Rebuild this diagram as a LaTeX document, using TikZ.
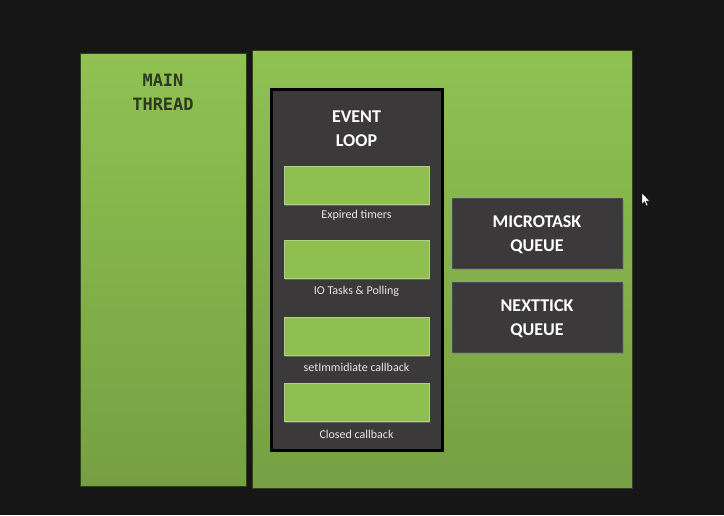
\documentclass[tikz,border=0pt]{standalone}
\usepackage{fontspec}
\setmainfont{Carlito}
\newfontfamily\monofont{DejaVu Sans Mono}
\usetikzlibrary{shadows}
\definecolor{bgdark}{HTML}{161616}
\definecolor{leaftop}{HTML}{90C152}
\definecolor{leafbot}{HTML}{76A043}
\definecolor{slate}{HTML}{3B393A}
\definecolor{barfill}{HTML}{8FBF4F}
\definecolor{threadink}{HTML}{2C3A20}
\definecolor{labelink}{HTML}{E6E6E6}
\tikzset{
  panel/.style={rectangle, inner sep=0pt, top color=leaftop, bottom color=leafbot,
    draw=black!60!leafbot, line width=0.6pt},
  loopbox/.style={rectangle, inner sep=0pt, fill=slate, draw=black, line width=3pt},
  phasebar/.style={rectangle, inner sep=0pt, fill=barfill, draw=barfill!70!white,
    line width=0.5pt, minimum width=145pt, minimum height=38pt,
    drop shadow={shadow xshift=1pt, shadow yshift=-1.5pt, opacity=0.6}},
  phaselabel/.style={text=labelink, font=\fontsize{12}{14}\selectfont},
  queuebox/.style={rectangle, inner sep=0pt, fill=slate, draw=black!70, line width=0.5pt,
    minimum width=170pt, minimum height=70pt,
    drop shadow={shadow xshift=1.5pt, shadow yshift=-2pt, opacity=0.6}},
  titletext/.style={align=center, text=white, font=\bfseries\fontsize{18}{24}\selectfont},
  threadtext/.style={align=center, text=threadink, font=\monofont\bfseries\fontsize{17}{24}\selectfont}
}
\begin{document}
\begin{tikzpicture}[x=1pt,y=-1pt]
  % backdrop
  \fill[bgdark] (0,0) rectangle (724,515);
  \useasboundingbox (0,0) rectangle (724,515);

  % the two green panels
  \node[panel, minimum width=166pt, minimum height=433pt] (mainpanel) at (163,269.5) {};
  \node[panel, minimum width=380pt, minimum height=438pt] (workpanel) at (442,269) {};
  \node[threadtext] (mainlabel) at (163,92) {MAIN\\THREAD};

  % event loop column
  \node[loopbox, minimum width=171pt, minimum height=361pt] (loop) at (356.5,269.5) {};
  \node[titletext] (looptitle) at (356.5,129) {EVENT\\LOOP};

  \node[phasebar] (timers) at (356.5,185) {};
  \node[phaselabel] (timerslbl) at (356.5,215) {Expired timers};
  \node[phasebar] (io) at (356.5,259) {};
  \node[phaselabel] (iolbl) at (356.5,291) {IO Tasks \& Polling};
  \node[phasebar] (immediate) at (356.5,336) {};
  \node[phaselabel] (immediatelbl) at (356.5,367) {setImmidiate callback};
  \node[phasebar] (closed) at (356.5,402.5) {};
  \node[phaselabel] (closedlbl) at (356.5,434) {Closed callback};

  % queues
  \node[queuebox] (micro) at (537,233) {};
  \node[titletext] (microtext) at (537,235) {MICROTASK\\QUEUE};
  \node[queuebox] (tick) at (537,317) {};
  \node[titletext] (ticktext) at (537,319) {NEXTTICK\\QUEUE};

  % mouse pointer
  \fill[white, draw=black, line width=0.3pt]
    (642,193) -- (642,204) -- (644.5,201.5) -- (646.5,206) -- (648,205.3)
    -- (646,201) -- (649.5,201) -- cycle;
\end{tikzpicture}
\end{document}
